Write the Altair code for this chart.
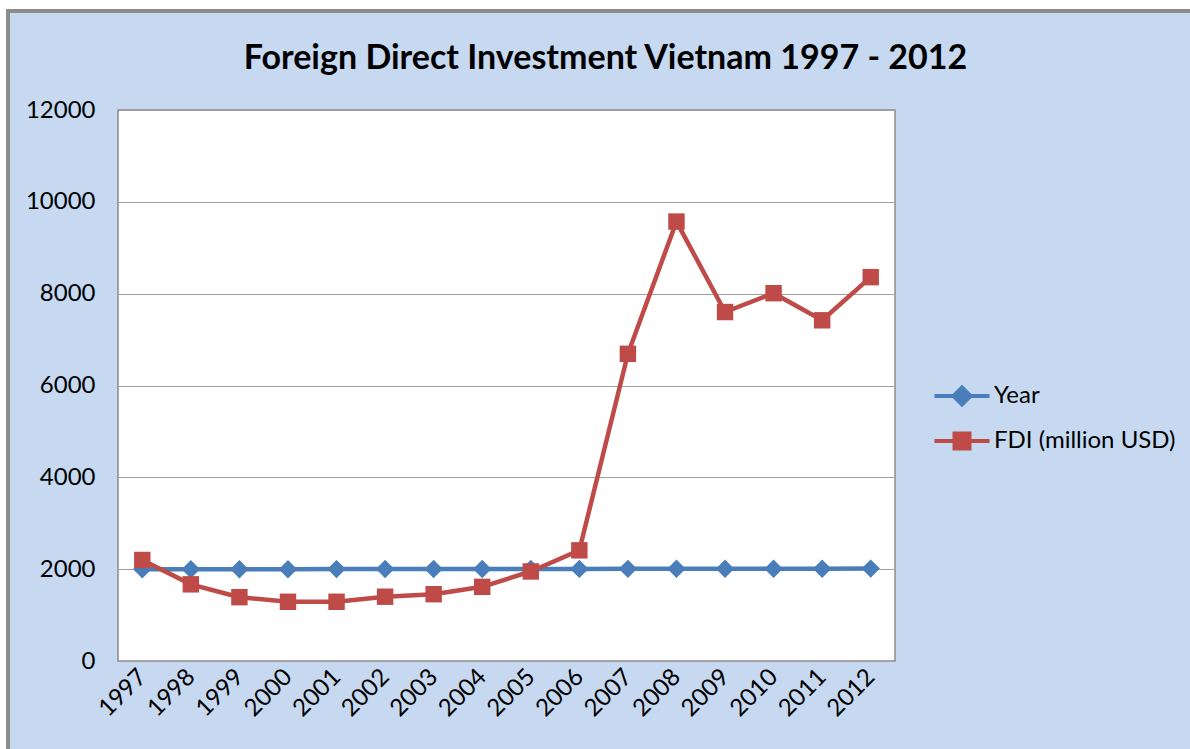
import altair as alt
import pandas as pd

years = [str(y) for y in range(1997, 2013)]
year_values = list(range(1997, 2013))
fdi_values = [2200, 1670, 1390, 1290, 1290, 1400, 1455, 1615, 1950, 2410,
              6690, 9570, 7600, 8010, 7420, 8360]
series_names = ["Year", "FDI (million USD)"]
series_colors = ["#4A7EBB", "#BE4B48"]

rows = []
for y, v in zip(years, year_values):
    rows.append({"year": y, "series": series_names[0], "value": v})
for y, v in zip(years, fdi_values):
    rows.append({"year": y, "series": series_names[1], "value": v})
df = pd.DataFrame(rows)

W, H = 777, 551
PL, PT = 118, 110
FONT = "Lato"
BG = "#C6D9F1"
LABEL_SIZE = 24

x_enc = alt.X("year:N", sort=years, title=None,
              scale=alt.Scale(type="point", padding=0.5),
              axis=alt.Axis(labelAngle=-45, labelAlign="right", labelBaseline="middle",
                            labelFontSize=LABEL_SIZE, labelFont=FONT, labelColor="#000000",
                            labelPadding=12, ticks=False, domain=False, grid=False))
y_enc = alt.Y("value:Q", title=None,
              scale=alt.Scale(domain=[0, 12000], nice=False),
              axis=alt.Axis(values=list(range(0, 12001, 2000)), format="d",
                            labelFontSize=LABEL_SIZE, labelFont=FONT, labelColor="#000000",
                            labelPadding=23, ticks=False, domain=False, grid=True,
                            gridColor="#A0A0A0", gridWidth=1))
color_scale = alt.Scale(domain=series_names, range=series_colors)

diamond_path = "M-2.75,0H2.75M0,-0.85L0.85,0L0,0.85L-0.85,0Z"
square_path = "M-2.75,0H2.75M-0.75,-0.75H0.75V0.75H-0.75Z"

legend = alt.Legend(
    title=None, orient="none", legendX=832, legendY=274,
    labelFont=FONT, labelFontSize=LABEL_SIZE, labelColor="#000000", labelLimit=400,
    symbolSize=400, symbolStrokeWidth=4, symbolOpacity=1,
    labelOffset=20, rowPadding=12,
)

base = alt.Chart(df)
layers = []
for name, col in zip(series_names, series_colors):
    sub = base.transform_filter(alt.datum.series == name)
    layers.append(sub.mark_line(strokeWidth=4.5, color=col).encode(x=x_enc, y=y_enc))
for name, col, shp, sz in zip(series_names, series_colors, ["diamond", "square"], [340, 270]):
    sub = base.transform_filter(alt.datum.series == name)
    layers.append(sub.mark_point(filled=True, opacity=1, strokeWidth=0, shape=shp,
                                 size=sz, color=col).encode(x=x_enc, y=y_enc))

legend_layer = base.transform_filter("false").mark_point(
    filled=True, opacity=1, strokeWidth=4).encode(
    x=x_enc, y=y_enc,
    color=alt.Color("series:N", sort=series_names, scale=color_scale, legend=legend),
    stroke=alt.Stroke("series:N", sort=series_names, scale=color_scale, legend=legend),
    shape=alt.Shape("series:N", sort=series_names,
                    scale=alt.Scale(domain=series_names, range=[diamond_path, square_path]),
                    legend=legend),
)

# decorative outer frame: white margin strips and gray border
left_strip = alt.Chart(df).mark_rect(fill="white", clip=False).encode(
    x=alt.value(-PL), x2=alt.value(-PL + 8), y=alt.value(-PT), y2=alt.value(749 - PT))
top_strip = alt.Chart(df).mark_rect(fill="white", clip=False).encode(
    x=alt.value(-PL), x2=alt.value(1190 - PL), y=alt.value(-PT), y2=alt.value(-PT + 10))
border = alt.Chart(df).mark_rect(fill=None, stroke="#8C8C8C", strokeWidth=2.5, clip=False).encode(
    x=alt.value(-PL + 8), x2=alt.value(1190 - PL + 20), y=alt.value(-PT + 11), y2=alt.value(749 - PT + 20))

chart = alt.layer(left_strip, top_strip, border, *layers, legend_layer).properties(
    width=W, height=H,
    title=alt.TitleParams("Foreign Direct Investment Vietnam 1997 - 2012",
                          font=FONT, fontSize=34, fontWeight="bold", color="#000000",
                          anchor="middle", dx=99, offset=-76),
    background=BG,
    padding={"left": PL, "top": PT, "right": 1190 - PL - W, "bottom": 749 - PT - H},
    autosize=alt.AutoSizeParams(type="none"),
).configure_view(fill="white", stroke="#8C8C8C", strokeWidth=1.5)

chart.save("out.html", embed_options={"renderer": "svg", "actions": False})
